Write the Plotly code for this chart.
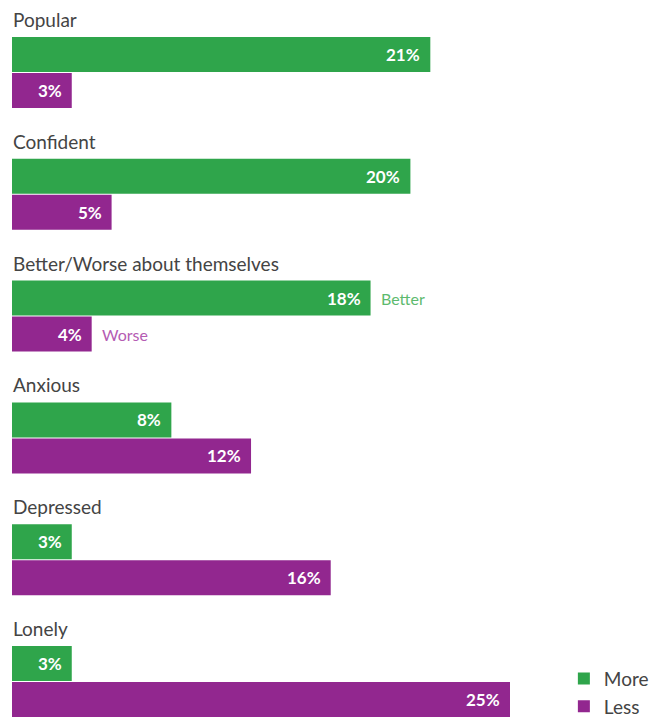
import plotly.graph_objects as go

categories = ["Popular", "Confident", "Better/Worse about themselves", "Anxious", "Depressed", "Lonely"]
more_vals = [21, 20, 18, 8, 3, 3]
less_vals = [3, 5, 4, 12, 16, 25]
series_names = ["More", "Less"]
side_notes = {2: ("Better", "Worse")}

GREEN = "#2FA54B"
PURPLE = "#92278F"
FONT = "Lato"

pitch = 121.8
bar_h = 35 / pitch
gap = 36 / pitch
label_off = 35 / pitch

idx = list(range(len(categories)))
y_more = [i for i in idx]
y_less = [i + gap for i in idx]

fig = go.Figure()
fig.add_trace(go.Bar(x=more_vals, y=y_more, orientation="h", name=series_names[0],
                     marker=dict(color=GREEN, line=dict(width=0)), width=bar_h,
                     hoverinfo="skip"))
fig.add_trace(go.Bar(x=less_vals, y=y_less, orientation="h", name=series_names[1],
                     marker=dict(color=PURPLE, line=dict(width=0)), width=bar_h,
                     hoverinfo="skip"))

ann = []
for i, c in enumerate(categories):
    ann.append(dict(x=0, y=i - label_off, xref="x", yref="y", text=c, showarrow=False,
                    xanchor="left", yanchor="middle", xshift=-1,
                    font=dict(family=FONT, size=19, color="#444444")))
    for v, yy in ((more_vals[i], y_more[i]), (less_vals[i], y_less[i])):
        ann.append(dict(x=v, y=yy, xref="x", yref="y", text=f"<b>{v}%</b>", showarrow=False,
                        xanchor="right", yanchor="middle", xshift=-8,
                        font=dict(family=FONT, size=17, color="white")))
for i, (a, b) in side_notes.items():
    ann.append(dict(x=more_vals[i], y=y_more[i], xref="x", yref="y", text=a, showarrow=False,
                    xanchor="left", yanchor="middle", xshift=8,
                    font=dict(family=FONT, size=16, color="#5DBA6E")))
    ann.append(dict(x=less_vals[i], y=y_less[i], xref="x", yref="y", text=b, showarrow=False,
                    xanchor="left", yanchor="middle", xshift=8,
                    font=dict(family=FONT, size=16, color="#B55CB3")))

ytop = -54.5 / pitch
ybot = (717 - 54.5) / pitch

fig.update_layout(
    width=650, height=717,
    margin=dict(l=12, r=0, t=0, b=0, autoexpand=False),
    paper_bgcolor="white", plot_bgcolor="white",
    barmode="overlay",
    xaxis=dict(range=[0, 638 / 19.92], visible=False, fixedrange=True),
    yaxis=dict(range=[ybot, ytop], visible=False, fixedrange=True),
    annotations=ann,
    showlegend=True,
    legend=dict(x=0.865, y=-0.012, xanchor="left", yanchor="bottom",
                font=dict(family=FONT, size=19, color="#444444"),
                bgcolor="rgba(0,0,0,0)", tracegroupgap=0, itemwidth=30),
)

fig.write_html("out.html", config={"displayModeBar": False},
               post_script="document.body.style.margin='0';document.body.style.overflow='hidden';")
